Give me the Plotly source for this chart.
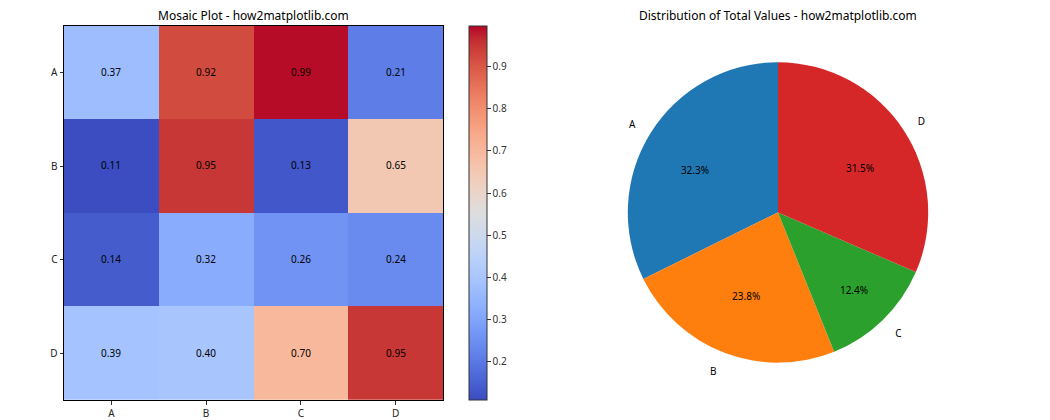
import plotly.graph_objects as go

categories = ["A", "B", "C", "D"]
# rows = y categories (A..D top to bottom), columns = x categories
matrix = [
    [0.37, 0.92, 0.99, 0.21],
    [0.11, 0.95, 0.13, 0.65],
    [0.14, 0.32, 0.26, 0.24],
    [0.39, 0.40, 0.70, 0.95],
]
pie_percent = [32.3, 23.8, 12.4, 31.5]
pie_colors = ["#1f77b4", "#ff7f0e", "#2ca02c", "#d62728"]
cbar_ticks = [0.2, 0.3, 0.4, 0.5, 0.6, 0.7, 0.8, 0.9]

coolwarm_pts = [
    (59, 76, 192), (68, 90, 204), (77, 104, 215), (87, 117, 225), (98, 130, 234),
    (108, 142, 241), (119, 154, 247), (130, 165, 251), (141, 176, 254), (152, 185, 255),
    (163, 194, 255), (174, 201, 253), (184, 208, 249), (194, 213, 244), (204, 217, 238),
    (213, 219, 230), (221, 221, 221), (229, 216, 209), (236, 211, 197), (241, 204, 185),
    (245, 196, 173), (247, 187, 160), (247, 177, 148), (247, 166, 135), (244, 154, 123),
    (241, 141, 111), (236, 127, 99), (229, 112, 88), (222, 96, 77), (213, 80, 66),
    (203, 62, 56), (192, 40, 47), (180, 4, 38),
]
n = len(coolwarm_pts) - 1
coolwarm = [[i / n, "rgb(%d,%d,%d)" % c] for i, c in enumerate(coolwarm_pts)]

FONT = "Noto Sans"
W, H = 1050, 420

# first slice should start at 12 o'clock going counterclockwise
first_share_deg = pie_percent[0] / sum(pie_percent) * 360
pie_rotation = -first_share_deg

fig = go.Figure()

fig.add_trace(go.Heatmap(
    z=matrix, x=categories, y=categories,
    colorscale=coolwarm, zmin=0.109, zmax=0.996,
    texttemplate="%{z:.2f}", textfont=dict(size=10, color="black", family=FONT),
    xgap=0, ygap=0,
    colorbar=dict(
        x=469 / W, xanchor="left", xref="paper", xpad=0, ypad=0,
        y=(420 - 405) / H, yanchor="bottom", len=(405 - 26) / H, lenmode="fraction",
        thickness=18, thicknessmode="pixels",
        outlinewidth=1, outlinecolor="#333",
        tickvals=cbar_ticks, ticks="outside", ticklen=3.5, tickcolor="#333",
        tickfont=dict(size=10, color="#333", family=FONT),
    ),
))


def dom(radius, cx=778, cy=215):
    return dict(x=[(cx - radius) / W, (cx + radius) / W],
                y=[(H - cy - radius) / H, (H - cy + radius) / H])


CLEAR = ["rgba(0,0,0,0)"] * 4
PCT = "%{percent:.1%}"

# coloured wedges, with the percentages of the lower wedges placed inside
fig.add_trace(go.Pie(
    labels=categories, values=pie_percent, sort=False,
    direction="counterclockwise", rotation=pie_rotation,
    marker=dict(colors=pie_colors, line=dict(width=0)),
    texttemplate=["", PCT, PCT, ""], textposition="inside",
    insidetextorientation="horizontal",
    textfont=dict(size=10, color="black", family=FONT),
    domain=dom(152), showlegend=False,
))
# percentages of the upper wedges
fig.add_trace(go.Pie(
    labels=categories, values=pie_percent, sort=False,
    direction="counterclockwise", rotation=pie_rotation,
    marker=dict(colors=CLEAR, line=dict(width=0)),
    texttemplate=[PCT, "", "", PCT], textposition="outside",
    textfont=dict(size=10, color="black", family=FONT),
    domain=dom(78), showlegend=False, hoverinfo="skip",
))
# category labels (outside the pie)
fig.add_trace(go.Pie(
    labels=categories, values=pie_percent, sort=False,
    direction="counterclockwise", rotation=pie_rotation,
    marker=dict(colors=CLEAR, line=dict(width=0)),
    texttemplate="%{label}", textposition="outside",
    textfont=dict(size=10, color="black", family=FONT),
    domain=dom(165), showlegend=False, hoverinfo="skip",
))

fig.update_layout(
    width=W, height=H,
    margin=dict(l=0, r=0, t=0, b=0),
    paper_bgcolor="white", plot_bgcolor="white",
    font=dict(family=FONT, size=10, color="#333"),
    xaxis=dict(domain=[64 / W, 443 / W], showline=True, mirror=True, linecolor="black",
               linewidth=1, ticks="outside", ticklen=3.5, tickcolor="#333",
               showgrid=False, zeroline=False, tickfont=dict(size=10, color="#222")),
    yaxis=dict(domain=[(420 - 405) / H, (420 - 26) / H], autorange="reversed",
               showline=True, mirror=True, linecolor="black", linewidth=1,
               ticks="outside", ticklen=3.5, tickcolor="#333",
               showgrid=False, zeroline=False, tickfont=dict(size=10, color="#222")),
    annotations=[
        dict(text="Mosaic Plot - how2matplotlib.com", x=(64 + 443) / 2 / W, y=(420 - 16) / H,
             xref="paper", yref="paper", showarrow=False, xanchor="center", yanchor="middle",
             font=dict(size=12, color="black", family=FONT)),
        dict(text="Distribution of Total Values - how2matplotlib.com", x=778 / W, y=(420 - 16) / H,
             xref="paper", yref="paper", showarrow=False, xanchor="center", yanchor="middle",
             font=dict(size=12, color="black", family=FONT)),
    ],
)

fig.write_html("out.html", config={"displayModeBar": False},
               post_script="document.body.style.margin='0';document.body.style.overflow='hidden';")
